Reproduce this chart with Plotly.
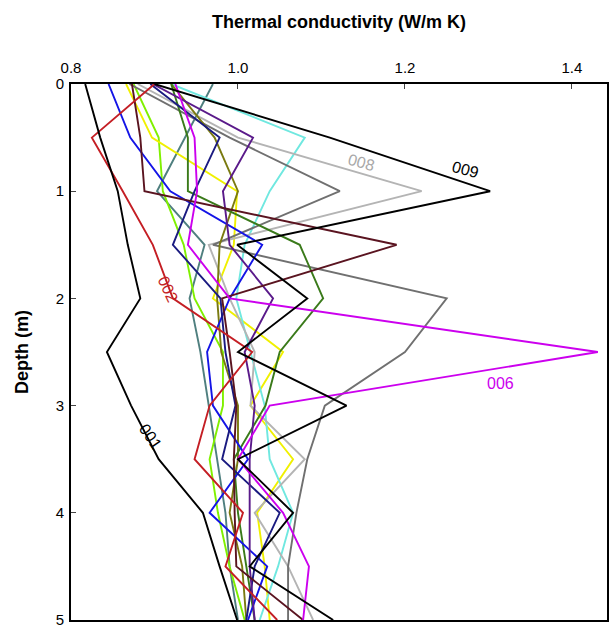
import plotly.graph_objects as go

depth = [0, 0.5, 1, 1.5, 2, 2.5, 3, 3.5, 4, 4.5, 5]

s001 = [0.817, 0.835, 0.856, 0.868, 0.883, 0.843, 0.872, 0.905, 0.958, 0.978, 0.999]
s002 = [0.900, 0.825, 0.862, 0.898, 0.922, 1.017, 0.966, 0.948, 1.006, 0.985, 1.047]
s009 = [0.900, 1.110, 1.302, 0.999, 1.083, 1.000, 1.130, 1.000, 1.066, 1.014, 1.114]
s_maroon = [0.873, 0.883, 0.888, 1.190, 0.981, 0.990, 0.998, 0.995, 0.996, 0.998, 1.078]
s008 = [0.880, 1.000, 1.220, 0.965, 0.990, 1.020, 1.015, 1.080, 1.020, 1.060, 1.090]
s006 = [0.925, 0.948, 0.951, 0.940, 0.990, 1.431, 1.038, 1.000, 1.054, 1.085, 1.078]
s_cyan = [0.920, 1.080, 1.038, 1.008, 0.998, 1.015, 1.032, 1.038, 1.066, 1.048, 1.026]
s_slate = [0.970, 0.937, 0.903, 0.960, 0.942, 0.955, 0.965, 0.975, 0.985, 0.990, 1.000]
s_yellow = [0.866, 0.897, 0.999, 0.995, 0.970, 1.054, 1.015, 1.066, 1.023, 1.032, 1.038]
s_lime = [0.875, 0.905, 0.910, 0.935, 0.948, 0.982, 0.982, 0.966, 0.976, 0.990, 1.008]
s_blue = [0.845, 0.871, 0.919, 1.029, 0.990, 0.963, 0.970, 1.012, 0.966, 1.035, 1.012]
s_navy = [0.895, 0.978, 0.948, 0.922, 0.979, 0.985, 0.997, 0.981, 1.050, 1.020, 1.010]
s_purple = [0.898, 1.018, 0.982, 0.990, 1.042, 1.008, 1.020, 1.014, 1.014, 1.014, 1.020]
s_green = [0.920, 0.940, 0.940, 1.074, 1.102, 1.050, 1.033, 0.995, 1.000, 1.010, 1.020]
s_olive = [0.920, 0.972, 1.000, 0.978, 0.975, 0.980, 1.000, 1.000, 0.990, 1.005, 1.010]
s_dimgray = [0.870, 0.990, 1.122, 0.970, 1.250, 1.200, 1.104, 1.083, 1.070, 1.060, 1.060]

series = [
    ("slate", s_slate, "#4f7f7f"),
    ("lime", s_lime, "#80f000"),
    ("yellow", s_yellow, "#f0f000"),
    ("cyan", s_cyan, "#70e8e0"),
    ("008", s008, "#b4b4b4"),
    ("dimgray", s_dimgray, "#707070"),
    ("olive", s_olive, "#7a7a10"),
    ("green", s_green, "#3a7a1a"),
    ("blue", s_blue, "#1414e6"),
    ("navy", s_navy, "#1a1a80"),
    ("purple", s_purple, "#5a1a8a"),
    ("maroon", s_maroon, "#5a1420"),
    ("006", s006, "#cc00ee"),
    ("002", s002, "#c41e24"),
    ("001", s001, "#000000"),
    ("009", s009, "#000000"),
]

fig = go.Figure()
for name, xs, col in series:
    fig.add_trace(go.Scatter(x=xs, y=depth, mode="lines", name=name,
                             line=dict(color=col, width=1.9), showlegend=False))

labels = [
    ("009", 1.272, 0.80, "#000000", 15),
    ("008", 1.148, 0.73, "#a8a8a8", 15),
    ("002", 0.916, 1.92, "#c41e24", 65),
    ("001", 0.895, 3.29, "#000000", 55),
    ("006", 1.314, 2.79, "#cc00ee", 0),
]
for txt, x, y, col, ang in labels:
    fig.add_annotation(x=x, y=y, text=txt, showarrow=False, textangle=ang,
                       font=dict(family="Liberation Sans, Arial", size=16, color=col))

fig.update_layout(
    width=612, height=627,
    margin=dict(l=71, r=5, t=84, b=7),
    paper_bgcolor="white", plot_bgcolor="white",
    font=dict(family="Liberation Sans, Arial", size=15, color="black"),
    xaxis=dict(side="top", range=[0.8, 1.442], tickvals=[0.8, 1.0, 1.2, 1.4],
               ticktext=["0.8", "1.0", "1.2", "1.4"], ticks="inside", ticklen=5,
               ticklabelstandoff=3, ticklabeloverflow="allow",
               showline=True, linecolor="black", linewidth=2, mirror=True,
               showgrid=False, zeroline=False, automargin=False,
               title=dict(text="<b>Thermal conductivity (W/m K)</b>", font=dict(size=18), standoff=26)),
    yaxis=dict(range=[5, 0], tickvals=[0, 1, 2, 3, 4, 5], ticks="inside", ticklen=5,
               ticklabelstandoff=2, ticklabeloverflow="allow",
               showline=True, linecolor="black", linewidth=2, mirror=True,
               showgrid=False, zeroline=False, automargin=False,
               title=dict(text="<b>Depth (m)</b>", font=dict(size=18), standoff=22)),
)

fig.write_html("out.html", config={"displayModeBar": False},
               post_script="document.body.style.margin='0';document.body.style.padding='0';")
